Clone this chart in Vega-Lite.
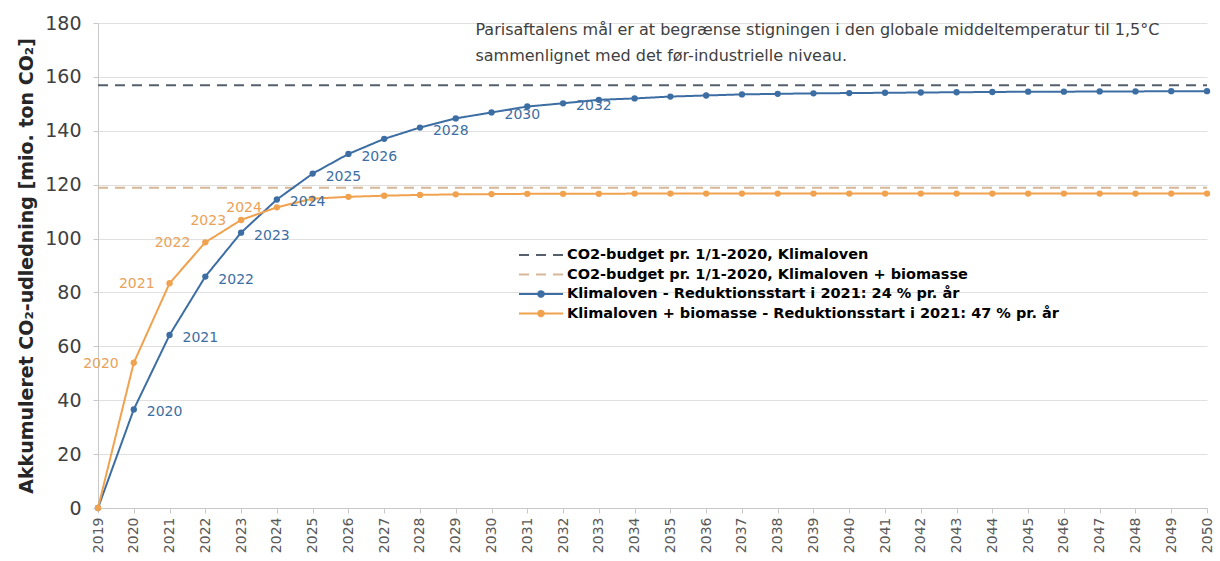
{
  "$schema": "https://vega.github.io/schema/vega-lite/v6.json",
  "width": 1109,
  "height": 485,
  "autosize": {"type": "none"},
  "padding": {"left": 98, "top": 23, "right": 13, "bottom": 53},
  "background": "white",
  "config": {
    "font": "DejaVu Sans",
    "view": {"stroke": null},
    "axis": {"domainColor": "#c8c8c8", "tickColor": "#c8c8c8", "gridColor": "#e0e0e0"}
  },
  "datasets": {
    "main": [
      {"series": "CO2-budget pr. 1/1-2020, Klimaloven", "year": 2019, "v": 156.9},
      {"series": "CO2-budget pr. 1/1-2020, Klimaloven", "year": 2050, "v": 156.9},
      {"series": "CO2-budget pr. 1/1-2020, Klimaloven + biomasse", "year": 2019, "v": 118.9},
      {"series": "CO2-budget pr. 1/1-2020, Klimaloven + biomasse", "year": 2050, "v": 118.9},
      {"series": "Klimaloven - Reduktionsstart i 2021: 24 % pr. år", "year": 2019, "v": 0},
      {"series": "Klimaloven - Reduktionsstart i 2021: 24 % pr. år", "year": 2020, "v": 36.6},
      {"series": "Klimaloven - Reduktionsstart i 2021: 24 % pr. år", "year": 2021, "v": 64.2},
      {"series": "Klimaloven - Reduktionsstart i 2021: 24 % pr. år", "year": 2022, "v": 85.9},
      {"series": "Klimaloven - Reduktionsstart i 2021: 24 % pr. år", "year": 2023, "v": 102.2},
      {"series": "Klimaloven - Reduktionsstart i 2021: 24 % pr. år", "year": 2024, "v": 114.5},
      {"series": "Klimaloven - Reduktionsstart i 2021: 24 % pr. år", "year": 2025, "v": 124.1},
      {"series": "Klimaloven - Reduktionsstart i 2021: 24 % pr. år", "year": 2026, "v": 131.4},
      {"series": "Klimaloven - Reduktionsstart i 2021: 24 % pr. år", "year": 2027, "v": 137.0},
      {"series": "Klimaloven - Reduktionsstart i 2021: 24 % pr. år", "year": 2028, "v": 141.2},
      {"series": "Klimaloven - Reduktionsstart i 2021: 24 % pr. år", "year": 2029, "v": 144.6},
      {"series": "Klimaloven - Reduktionsstart i 2021: 24 % pr. år", "year": 2030, "v": 146.8},
      {"series": "Klimaloven - Reduktionsstart i 2021: 24 % pr. år", "year": 2031, "v": 149.0},
      {"series": "Klimaloven - Reduktionsstart i 2021: 24 % pr. år", "year": 2032, "v": 150.2},
      {"series": "Klimaloven - Reduktionsstart i 2021: 24 % pr. år", "year": 2033, "v": 151.5},
      {"series": "Klimaloven - Reduktionsstart i 2021: 24 % pr. år", "year": 2034, "v": 152.0},
      {"series": "Klimaloven - Reduktionsstart i 2021: 24 % pr. år", "year": 2035, "v": 152.7},
      {"series": "Klimaloven - Reduktionsstart i 2021: 24 % pr. år", "year": 2036, "v": 153.1},
      {"series": "Klimaloven - Reduktionsstart i 2021: 24 % pr. år", "year": 2037, "v": 153.5},
      {"series": "Klimaloven - Reduktionsstart i 2021: 24 % pr. år", "year": 2038, "v": 153.7},
      {"series": "Klimaloven - Reduktionsstart i 2021: 24 % pr. år", "year": 2039, "v": 153.9},
      {"series": "Klimaloven - Reduktionsstart i 2021: 24 % pr. år", "year": 2040, "v": 154.0},
      {"series": "Klimaloven - Reduktionsstart i 2021: 24 % pr. år", "year": 2041, "v": 154.1},
      {"series": "Klimaloven - Reduktionsstart i 2021: 24 % pr. år", "year": 2042, "v": 154.2},
      {"series": "Klimaloven - Reduktionsstart i 2021: 24 % pr. år", "year": 2043, "v": 154.3},
      {"series": "Klimaloven - Reduktionsstart i 2021: 24 % pr. år", "year": 2044, "v": 154.4},
      {"series": "Klimaloven - Reduktionsstart i 2021: 24 % pr. år", "year": 2045, "v": 154.5},
      {"series": "Klimaloven - Reduktionsstart i 2021: 24 % pr. år", "year": 2046, "v": 154.5},
      {"series": "Klimaloven - Reduktionsstart i 2021: 24 % pr. år", "year": 2047, "v": 154.6},
      {"series": "Klimaloven - Reduktionsstart i 2021: 24 % pr. år", "year": 2048, "v": 154.6},
      {"series": "Klimaloven - Reduktionsstart i 2021: 24 % pr. år", "year": 2049, "v": 154.7},
      {"series": "Klimaloven - Reduktionsstart i 2021: 24 % pr. år", "year": 2050, "v": 154.7},
      {"series": "Klimaloven + biomasse - Reduktionsstart i 2021: 47 % pr. år", "year": 2019, "v": 0},
      {"series": "Klimaloven + biomasse - Reduktionsstart i 2021: 47 % pr. år", "year": 2020, "v": 53.9},
      {"series": "Klimaloven + biomasse - Reduktionsstart i 2021: 47 % pr. år", "year": 2021, "v": 83.4},
      {"series": "Klimaloven + biomasse - Reduktionsstart i 2021: 47 % pr. år", "year": 2022, "v": 98.6},
      {"series": "Klimaloven + biomasse - Reduktionsstart i 2021: 47 % pr. år", "year": 2023, "v": 106.9},
      {"series": "Klimaloven + biomasse - Reduktionsstart i 2021: 47 % pr. år", "year": 2024, "v": 111.6},
      {"series": "Klimaloven + biomasse - Reduktionsstart i 2021: 47 % pr. år", "year": 2025, "v": 114.8},
      {"series": "Klimaloven + biomasse - Reduktionsstart i 2021: 47 % pr. år", "year": 2026, "v": 115.5},
      {"series": "Klimaloven + biomasse - Reduktionsstart i 2021: 47 % pr. år", "year": 2027, "v": 115.9},
      {"series": "Klimaloven + biomasse - Reduktionsstart i 2021: 47 % pr. år", "year": 2028, "v": 116.2},
      {"series": "Klimaloven + biomasse - Reduktionsstart i 2021: 47 % pr. år", "year": 2029, "v": 116.4},
      {"series": "Klimaloven + biomasse - Reduktionsstart i 2021: 47 % pr. år", "year": 2030, "v": 116.5},
      {"series": "Klimaloven + biomasse - Reduktionsstart i 2021: 47 % pr. år", "year": 2031, "v": 116.6},
      {"series": "Klimaloven + biomasse - Reduktionsstart i 2021: 47 % pr. år", "year": 2032, "v": 116.6},
      {"series": "Klimaloven + biomasse - Reduktionsstart i 2021: 47 % pr. år", "year": 2033, "v": 116.6},
      {"series": "Klimaloven + biomasse - Reduktionsstart i 2021: 47 % pr. år", "year": 2034, "v": 116.7},
      {"series": "Klimaloven + biomasse - Reduktionsstart i 2021: 47 % pr. år", "year": 2035, "v": 116.7},
      {"series": "Klimaloven + biomasse - Reduktionsstart i 2021: 47 % pr. år", "year": 2036, "v": 116.7},
      {"series": "Klimaloven + biomasse - Reduktionsstart i 2021: 47 % pr. år", "year": 2037, "v": 116.7},
      {"series": "Klimaloven + biomasse - Reduktionsstart i 2021: 47 % pr. år", "year": 2038, "v": 116.7},
      {"series": "Klimaloven + biomasse - Reduktionsstart i 2021: 47 % pr. år", "year": 2039, "v": 116.7},
      {"series": "Klimaloven + biomasse - Reduktionsstart i 2021: 47 % pr. år", "year": 2040, "v": 116.7},
      {"series": "Klimaloven + biomasse - Reduktionsstart i 2021: 47 % pr. år", "year": 2041, "v": 116.7},
      {"series": "Klimaloven + biomasse - Reduktionsstart i 2021: 47 % pr. år", "year": 2042, "v": 116.7},
      {"series": "Klimaloven + biomasse - Reduktionsstart i 2021: 47 % pr. år", "year": 2043, "v": 116.7},
      {"series": "Klimaloven + biomasse - Reduktionsstart i 2021: 47 % pr. år", "year": 2044, "v": 116.7},
      {"series": "Klimaloven + biomasse - Reduktionsstart i 2021: 47 % pr. år", "year": 2045, "v": 116.7},
      {"series": "Klimaloven + biomasse - Reduktionsstart i 2021: 47 % pr. år", "year": 2046, "v": 116.7},
      {"series": "Klimaloven + biomasse - Reduktionsstart i 2021: 47 % pr. år", "year": 2047, "v": 116.7},
      {"series": "Klimaloven + biomasse - Reduktionsstart i 2021: 47 % pr. år", "year": 2048, "v": 116.7},
      {"series": "Klimaloven + biomasse - Reduktionsstart i 2021: 47 % pr. år", "year": 2049, "v": 116.7},
      {"series": "Klimaloven + biomasse - Reduktionsstart i 2021: 47 % pr. år", "year": 2050, "v": 116.7}
    ],
    "note": [
      {"year": 2029.55, "v": 177.3, "text": "Parisaftalens mål er at begrænse stigningen i den globale middeltemperatur til 1,5°C"},
      {"year": 2029.55, "v": 167.8, "text": "sammenlignet med det før-industrielle niveau."}
    ]
  },
  "data": {"name": "main"},
  "encoding": {
    "x": {
      "field": "year", "type": "quantitative",
      "scale": {"domain": [2019, 2050], "nice": false, "zero": false},
      "axis": {
        "values": [2019,2020,2021,2022,2023,2024,2025,2026,2027,2028,2029,2030,2031,2032,2033,2034,2035,2036,2037,2038,2039,2040,2041,2042,2043,2044,2045,2046,2047,2048,2049,2050],
        "format": "d", "labelAngle": -90, "labelAlign": "right", "labelBaseline": "middle",
        "labelFontSize": 14, "labelColor": "#595959", "labelPadding": 4,
        "tickSize": 5, "grid": false, "title": null
      }
    },
    "y": {
      "field": "v", "type": "quantitative",
      "scale": {"domain": [0, 180], "nice": false},
      "axis": {
        "values": [0,20,40,60,80,100,120,140,160,180],
        "labelFontSize": 19, "labelColor": "#404040", "labelPadding": 12, "tickSize": 5,
        "grid": true,
        "title": "Akkumuleret CO₂-udledning [mio. ton CO₂]",
        "titleFontSize": 19, "titleFontWeight": "bold", "titleColor": "#262626", "titlePadding": 8
      }
    }
  },
  "layer": [
    {
      "mark": {"type": "line", "strokeWidth": 2},
      "encoding": {
        "color": {
          "field": "series", "type": "nominal",
          "scale": {
            "domain": ["CO2-budget pr. 1/1-2020, Klimaloven", "CO2-budget pr. 1/1-2020, Klimaloven + biomasse", "Klimaloven - Reduktionsstart i 2021: 24 % pr. år", "Klimaloven + biomasse - Reduktionsstart i 2021: 47 % pr. år"],
            "range": ["#56606c", "#d6b797", "#3d6ea3", "#f0a24f"]
          },
          "legend": {
            "orient": "none", "legendX": 432, "legendY": 221, "title": null,
            "symbolType": "M-2.2,0H2.2", "symbolSize": 400, "symbolStrokeWidth": 2,
            "labelFontSize": 14.5, "labelFontWeight": "bold", "labelColor": "#000000",
            "rowPadding": 1.5, "labelOffset": 15, "labelLimit": 700,
            "encode": {
              "symbols": {
                "update": {
                  "shape": {"signal": "indexof(datum.value, 'Reduktion') >= 0 ? 'M-2.2,0H2.2M-0.28,0A0.28,0.28 0 1,0 0.28,0A0.28,0.28 0 1,0 -0.28,0' : 'M-2.2,0H2.2'"}
                }
              }
            }
          }
        },
        "strokeDash": {
          "field": "series", "type": "nominal",
          "scale": {
            "domain": ["CO2-budget pr. 1/1-2020, Klimaloven", "CO2-budget pr. 1/1-2020, Klimaloven + biomasse", "Klimaloven - Reduktionsstart i 2021: 24 % pr. år", "Klimaloven + biomasse - Reduktionsstart i 2021: 47 % pr. år"],
            "range": [[10, 7], [10, 7], [1, 0], [1, 0]]
          }
        }
      }
    },
    {
      "transform": [{"filter": "indexof(datum.series, 'Reduktionsstart') >= 0"}],
      "mark": {"type": "point", "filled": true, "size": 40, "opacity": 1},
      "encoding": {
        "color": {"field": "series", "type": "nominal", "legend": null}
      }
    },
    {
      "transform": [
        {"filter": "datum.series == 'Klimaloven - Reduktionsstart i 2021: 24 % pr. år'"},
        {"filter": {"field": "year", "oneOf": [2020, 2021, 2022, 2023, 2024, 2025, 2026, 2028, 2030, 2032]}}
      ],
      "mark": {"type": "text", "align": "left", "baseline": "middle", "dx": 13, "dy": 3, "fontSize": 14, "color": "#3d6ea3"},
      "encoding": {"text": {"field": "year", "type": "quantitative", "format": "d"}}
    },
    {
      "transform": [
        {"filter": "datum.series == 'Klimaloven + biomasse - Reduktionsstart i 2021: 47 % pr. år'"},
        {"filter": {"field": "year", "oneOf": [2020, 2021, 2022, 2023, 2024]}}
      ],
      "mark": {"type": "text", "align": "right", "baseline": "middle", "dx": -15, "dy": 1, "fontSize": 14, "color": "#e9a25a"},
      "encoding": {"text": {"field": "year", "type": "quantitative", "format": "d"}}
    },
    {
      "data": {"name": "note"},
      "mark": {"type": "text", "align": "left", "baseline": "middle", "fontSize": 16, "color": "#404040"},
      "encoding": {"text": {"field": "text", "type": "nominal"}}
    }
  ]
}
